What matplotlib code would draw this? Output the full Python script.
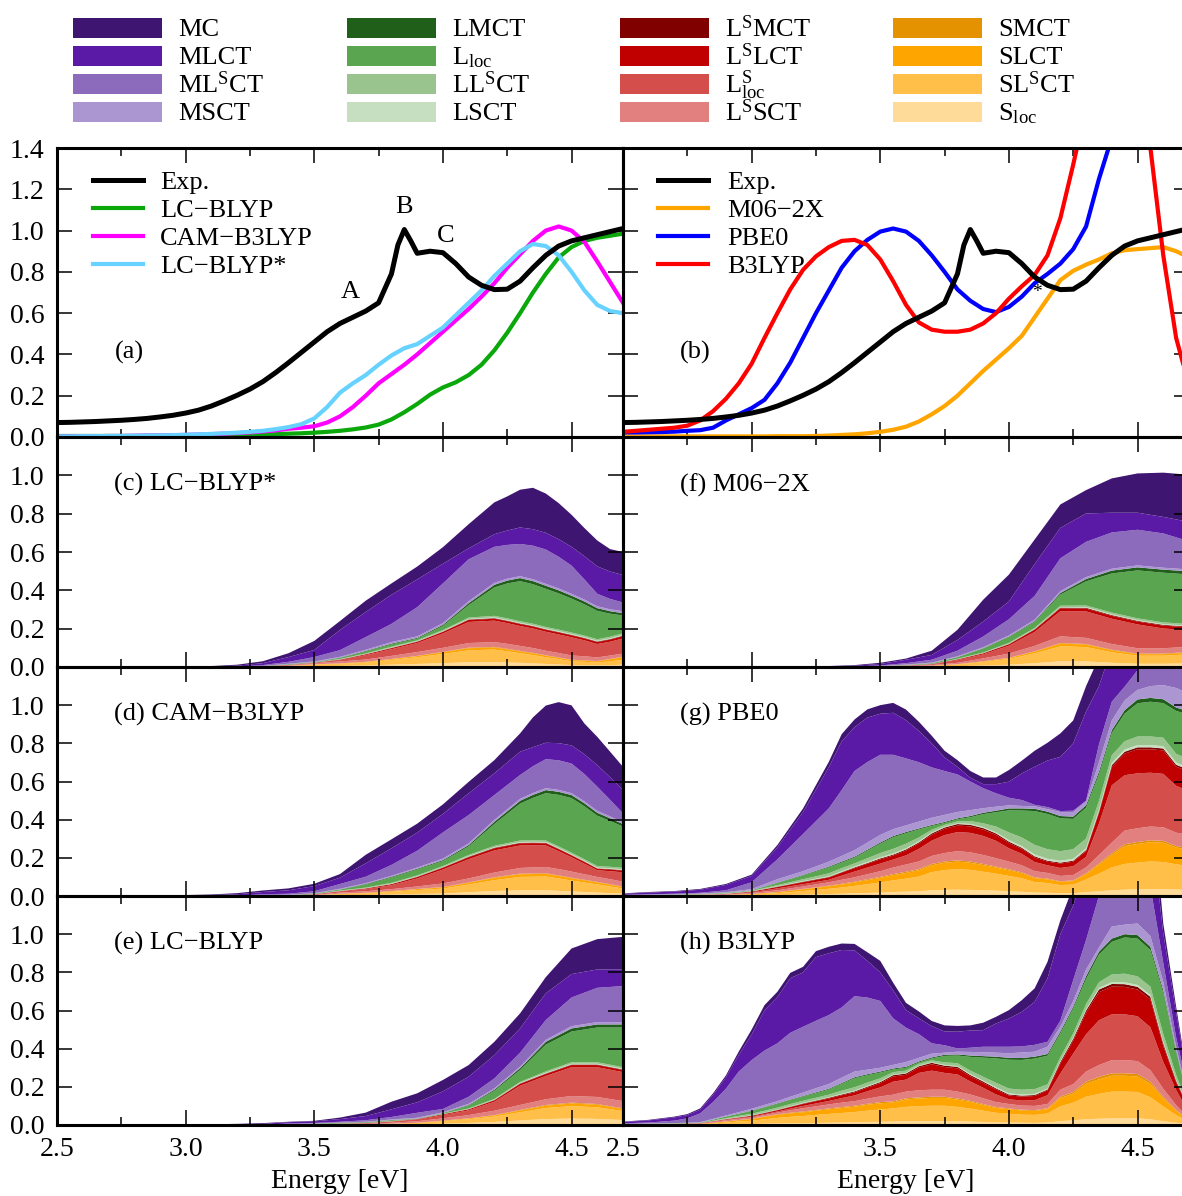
import numpy as np
import matplotlib
matplotlib.use("Agg")
import matplotlib.pyplot as plt
from matplotlib.patches import Rectangle

plt.rcParams['font.family'] = ['Liberation Serif', 'DejaVu Serif']
plt.rcParams['mathtext.fontset'] = 'custom'
plt.rcParams['mathtext.rm'] = 'Liberation Serif'
plt.rcParams['mathtext.it'] = 'Liberation Serif:italic'
plt.rcParams['mathtext.bf'] = 'Liberation Serif:bold'

# ---------------- data: top panels (lines) ----------------
LINE_E = [2.50, 2.55, 2.60, 2.65, 2.70, 2.75, 2.80, 2.85, 2.90, 2.95, 3.00, 3.05, 3.10, 3.15,
          3.20, 3.25, 3.30, 3.35, 3.40, 3.45, 3.50, 3.55, 3.60, 3.65, 3.70, 3.75, 3.80, 3.85,
          3.90, 3.95, 4.00, 4.05, 4.10, 4.15, 4.20, 4.25, 4.30, 4.35, 4.40, 4.45, 4.50, 4.55,
          4.60, 4.65, 4.70]

EXP_E = [2.50, 2.55, 2.60, 2.65, 2.70, 2.75, 2.80, 2.85, 2.90, 2.95, 3.00, 3.05, 3.10, 3.15,
         3.20, 3.25, 3.30, 3.35, 3.40, 3.45, 3.50, 3.55, 3.60, 3.65, 3.70, 3.75, 3.80, 3.825,
         3.85, 3.875, 3.90, 3.95, 4.00, 4.05, 4.10, 4.15, 4.20, 4.25, 4.30, 4.35, 4.40, 4.45,
         4.50, 4.55, 4.60, 4.65, 4.70]
EXP_V = [0.070, 0.071, 0.073, 0.075, 0.078, 0.081, 0.085, 0.090, 0.097, 0.105, 0.116, 0.130,
         0.150, 0.175, 0.202, 0.232, 0.268, 0.312, 0.360, 0.410, 0.460, 0.510, 0.550, 0.580,
         0.610, 0.650, 0.790, 0.930, 1.005, 0.950, 0.890, 0.900, 0.893, 0.840, 0.775, 0.735,
         0.714, 0.716, 0.755, 0.820, 0.880, 0.925, 0.950, 0.965, 0.980, 0.995, 1.010]

LCBLYP = [0.005, 0.005, 0.005, 0.005, 0.005, 0.005, 0.005, 0.006, 0.006, 0.007, 0.007, 0.008,
          0.008, 0.009, 0.010, 0.011, 0.012, 0.014, 0.016, 0.018, 0.021, 0.025, 0.030, 0.037,
          0.046, 0.060, 0.085, 0.120, 0.160, 0.205, 0.240, 0.265, 0.300, 0.350, 0.420, 0.505,
          0.600, 0.700, 0.790, 0.870, 0.920, 0.950, 0.965, 0.975, 0.985]
CAMB3LYP = [0.003, 0.003, 0.004, 0.004, 0.005, 0.005, 0.006, 0.007, 0.008, 0.009, 0.010, 0.012,
            0.014, 0.016, 0.019, 0.022, 0.027, 0.032, 0.040, 0.045, 0.052, 0.070, 0.100, 0.145,
            0.200, 0.260, 0.305, 0.350, 0.400, 0.455, 0.510, 0.565, 0.620, 0.680, 0.745, 0.820,
            0.885, 0.950, 1.000, 1.020, 1.000, 0.945, 0.850, 0.750, 0.650]
LCBLYP_STAR = [0.003, 0.003, 0.004, 0.004, 0.005, 0.005, 0.006, 0.007, 0.008, 0.009, 0.011,
               0.013, 0.015, 0.018, 0.021, 0.025, 0.030, 0.038, 0.048, 0.062, 0.090, 0.145,
               0.215, 0.260, 0.300, 0.350, 0.395, 0.430, 0.450, 0.490, 0.530, 0.590, 0.650,
               0.710, 0.780, 0.840, 0.900, 0.935, 0.925, 0.880, 0.800, 0.710, 0.640, 0.610, 0.600]
M062X = [0.003, 0.003, 0.003, 0.003, 0.003, 0.003, 0.003, 0.003, 0.003, 0.003, 0.003, 0.003,
         0.004, 0.004, 0.004, 0.005, 0.007, 0.010, 0.013, 0.018, 0.025, 0.035, 0.050, 0.075,
         0.110, 0.150, 0.200, 0.260, 0.320, 0.375, 0.430, 0.490, 0.580, 0.670, 0.760, 0.805,
         0.835, 0.860, 0.890, 0.905, 0.910, 0.915, 0.920, 0.900, 0.870]
PBE0 = [0.022, 0.022, 0.023, 0.024, 0.026, 0.030, 0.033, 0.045, 0.080, 0.110, 0.140, 0.180,
        0.260, 0.360, 0.480, 0.600, 0.710, 0.820, 0.900, 0.955, 0.995, 1.010, 0.995, 0.950,
        0.880, 0.800, 0.715, 0.660, 0.620, 0.605, 0.630, 0.680, 0.745, 0.790, 0.840, 0.910,
        1.020, 1.250, 1.450, 1.550, 1.600, 1.600, 1.600, 1.500, 1.450]
B3LYP = [0.025, 0.030, 0.035, 0.040, 0.045, 0.055, 0.080, 0.125, 0.185, 0.260, 0.355, 0.480,
         0.600, 0.715, 0.810, 0.875, 0.920, 0.950, 0.955, 0.930, 0.860, 0.755, 0.640, 0.555,
         0.520, 0.510, 0.510, 0.520, 0.550, 0.600, 0.670, 0.730, 0.785, 0.880, 1.060, 1.320,
         1.600, 1.850, 1.980, 2.000, 1.850, 1.400, 0.880, 0.480, 0.250]

# ---------------- data: decomposed spectra (stacks) ----------------
STACK_E = [2.5, 2.6, 2.7, 2.8, 2.9, 3.0, 3.1, 3.2, 3.3, 3.4, 3.5, 3.6, 3.7, 3.8, 3.9, 4.0,
           4.1, 4.2, 4.3, 4.4, 4.5, 4.6, 4.7]
C_E = [2.5, 2.6, 2.7, 2.8, 2.9, 3.0, 3.1, 3.2, 3.3, 3.4, 3.5, 3.6, 3.7, 3.8, 3.9, 4.0,
       4.1, 4.2, 4.25, 4.3, 4.35, 4.4, 4.45, 4.5, 4.55, 4.6, 4.65, 4.7]
D_E = [2.5, 2.6, 2.7, 2.8, 2.9, 3.0, 3.1, 3.2, 3.3, 3.4, 3.5, 3.6, 3.7, 3.8, 3.9, 4.0,
       4.1, 4.2, 4.3, 4.35, 4.4, 4.45, 4.5, 4.55, 4.6, 4.65, 4.7]
G_E = [2.5, 2.6, 2.7, 2.8, 2.9, 3.0, 3.1, 3.2, 3.3, 3.35, 3.4, 3.45, 3.5, 3.55, 3.6, 3.65,
       3.7, 3.75, 3.8, 3.85, 3.9, 3.95, 4.0, 4.05, 4.1, 4.15, 4.2, 4.25, 4.3, 4.35, 4.4, 4.45,
       4.5, 4.55, 4.6, 4.65, 4.7]
H_E = [2.5, 2.6, 2.7, 2.75, 2.8, 2.85, 2.9, 2.95, 3.0, 3.05, 3.1, 3.15, 3.2, 3.25, 3.3, 3.35,
       3.4, 3.45, 3.5, 3.55, 3.6, 3.65, 3.7, 3.75, 3.8, 3.85, 3.9, 3.95, 4.0, 4.05, 4.1, 4.15,
       4.2, 4.25, 4.3, 4.35, 4.4, 4.45, 4.5, 4.55, 4.6, 4.65, 4.7]

# legend order (top-left down each column)
CATEGORIES = ["MC", "MLCT", r"ML$^{\mathrm{S}}$CT", "MSCT",
              "LMCT", r"L$_{\mathrm{loc}}$", r"LL$^{\mathrm{S}}$CT", "LSCT",
              r"L$^{\mathrm{S}}$MCT", r"L$^{\mathrm{S}}$LCT", r"L$^{\mathrm{S}}_{\mathrm{loc}}$", r"L$^{\mathrm{S}}$SCT",
              "SMCT", "SLCT", r"SL$^{\mathrm{S}}$CT", r"S$_{\mathrm{loc}}$"]
CAT_COLORS = ["#3f1572", "#5a1aa6", "#8c6bbd", "#ab96d2",
              "#1f5f1a", "#5aa550", "#9ac48e", "#c6dfc0",
              "#800000", "#c00000", "#d44e4c", "#e28080",
              "#e49200", "#ffa500", "#ffbf48", "#ffdb99"]

# rows, bottom -> top: S_loc, SL^SCT, SLCT, SMCT, L^SSCT, L^S_loc, L^SLCT, L^SMCT,
#                      LSCT, LL^SCT, L_loc, LMCT, MSCT, ML^SCT, MLCT, MC
C_LCBLYP_STAR = [
    [0, 0, 0, 0, 0, 0, 0, 0, .001, .002, .004, .006, .008, .012, .016, .020, .025, .026, .024, .022, .019, .016, .013, .010, .009, .008, .010, .012],
    [0, 0, 0, 0, 0, 0, 0, 0, .001, .003, .008, .011, .016, .025, .035, .048, .062, .065, .058, .050, .043, .035, .028, .020, .018, .015, .020, .025],
    [0, 0, 0, 0, 0, 0, 0, 0, 0, .001, .002, .002, .003, .004, .006, .009, .011, .011, .010, .009, .009, .008, .007, .006, .006, .006, .010, .014],
    [0, 0, 0, 0, 0, 0, 0, 0, 0, 0, 0, 0, 0, .001, .001, .002, .003, .003, .003, .003, .003, .002, .002, .002, .002, .002, .002, .003],
    [0, 0, 0, 0, 0, 0, 0, 0, .001, .002, .006, .010, .012, .016, .020, .021, .024, .025, .026, .026, .025, .024, .023, .022, .021, .019, .018, .016],
    [0, 0, 0, 0, 0, 0, 0, 0, .001, .002, .002, .007, .023, .035, .047, .075, .110, .112, .108, .104, .102, .099, .097, .095, .083, .070, .072, .079],
    [0, 0, 0, 0, 0, 0, 0, 0, 0, .001, .001, .002, .004, .005, .006, .008, .010, .010, .010, .010, .010, .010, .010, .010, .010, .010, .011, .012],
    [0, 0, 0, 0, 0, 0, 0, 0, 0, 0, 0, .001, .001, .002, .002, .002, .003, .003, .003, .003, .003, .003, .003, .003, .003, .003, .003, .003],
    [0, 0, 0, 0, 0, 0, 0, 0, 0, 0, 0, .001, .001, .002, .002, .003, .003, .004, .004, .004, .004, .004, .004, .004, .004, .004, .004, .004],
    [0, 0, 0, 0, 0, 0, 0, 0, 0, .001, .001, .002, .003, .004, .004, .005, .007, .008, .008, .008, .008, .008, .008, .008, .008, .008, .008, .008],
    [0, 0, 0, 0, 0, 0, 0, 0, .001, .002, .001, .005, .010, .012, .009, .021, .065, .148, .182, .209, .206, .199, .189, .177, .163, .148, .120, .093],
    [0, 0, 0, 0, 0, 0, 0, 0, 0, .001, .001, .002, .003, .004, .004, .006, .010, .014, .015, .016, .016, .016, .016, .015, .015, .014, .013, .012],
    [0, 0, 0, 0, 0, 0, 0, 0, .001, .002, .003, .004, .006, .008, .008, .009, .010, .010, .010, .010, .010, .010, .010, .010, .010, .010, .010, .010],
    [0, 0, 0, 0, 0, 0, 0, .002, .004, .010, .023, .035, .066, .095, .152, .207, .219, .188, .176, .168, .175, .179, .165, .147, .105, .065, .054, .046],
    [.001, .001, .001, .001, .001, .002, .003, .005, .010, .025, .037, .105, .131, .152, .145, .103, .057, .066, .075, .086, .086, .087, .092, .098, .121, .143, .143, .143],
    [.001, .001, .001, .001, .001, .001, .002, .005, .010, .020, .047, .047, .059, .059, .067, .086, .126, .166, .178, .197, .216, .205, .188, .167, .147, .135, .117, .120],
]

D_CAMB3LYP = [
    [0, 0, 0, 0, 0, 0, 0, 0, 0, .001, .001, .004, .005, .008, .011, .013, .020, .026, .030, .030, .030, .027, .024, .021, .018, .015, .012],
    [0, 0, 0, 0, 0, 0, 0, 0, .001, .001, .002, .006, .009, .014, .020, .026, .040, .057, .070, .071, .072, .065, .057, .050, .043, .035, .027],
    [0, 0, 0, 0, 0, 0, 0, 0, 0, 0, .001, .002, .002, .003, .005, .006, .009, .012, .014, .014, .014, .013, .012, .011, .010, .009, .008],
    [0, 0, 0, 0, 0, 0, 0, 0, 0, 0, 0, 0, .001, .001, .001, .002, .002, .003, .003, .003, .003, .003, .003, .003, .003, .003, .002],
    [0, 0, 0, 0, 0, 0, 0, 0, .001, .001, .002, .006, .008, .010, .013, .019, .021, .025, .030, .032, .033, .033, .032, .029, .026, .026, .026],
    [0, 0, 0, 0, 0, 0, 0, 0, .001, .001, .002, .006, .011, .021, .042, .073, .101, .116, .118, .116, .113, .094, .075, .055, .035, .042, .049],
    [0, 0, 0, 0, 0, 0, 0, 0, 0, 0, .001, .002, .003, .005, .007, .009, .010, .011, .011, .011, .011, .010, .009, .009, .008, .008, .009],
    [0, 0, 0, 0, 0, 0, 0, 0, 0, 0, 0, 0, .001, .001, .002, .002, .003, .003, .003, .003, .003, .003, .003, .003, .002, .003, .003],
    [0, 0, 0, 0, 0, 0, 0, 0, 0, 0, 0, .001, .001, .002, .002, .002, .003, .003, .004, .004, .004, .004, .004, .004, .004, .004, .004],
    [0, 0, 0, 0, 0, 0, 0, 0, 0, .001, .001, .002, .003, .004, .005, .005, .006, .007, .008, .008, .008, .008, .008, .008, .008, .008, .008],
    [0, 0, 0, 0, 0, 0, 0, 0, .001, .001, .002, .005, .016, .028, .031, .026, .045, .114, .193, .222, .248, .270, .286, .277, .264, .240, .216],
    [0, 0, 0, 0, 0, 0, 0, 0, 0, 0, .001, .001, .003, .004, .004, .005, .007, .012, .015, .016, .016, .016, .016, .016, .015, .014, .013],
    [0, 0, 0, 0, 0, 0, 0, 0, .001, .001, .002, .003, .004, .005, .006, .008, .009, .010, .010, .010, .010, .010, .010, .010, .010, .010, .009],
    [0, 0, 0, 0, 0, 0, .001, .002, .004, .005, .010, .025, .034, .057, .088, .137, .148, .130, .125, .140, .152, .155, .155, .143, .127, .087, .047],
    [.001, .001, .001, .001, .002, .003, .004, .007, .012, .018, .027, .033, .070, .087, .095, .097, .114, .114, .122, .100, .086, .090, .095, .104, .113, .118, .122],
    [.001, .001, .001, .001, .001, .002, .003, .006, .008, .010, .012, .019, .045, .047, .047, .050, .060, .069, .096, .156, .195, .215, .210, .161, .148, .134, .122],
]

E_LCBLYP = [
    [0, 0, 0, 0, 0, 0, 0, 0, 0, 0, 0, 0, .001, .002, .004, .007, .011, .016, .024, .031, .034, .032, .026],
    [0, 0, 0, 0, 0, 0, 0, 0, 0, 0, 0, .001, .002, .004, .007, .013, .019, .028, .043, .058, .065, .061, .047],
    [0, 0, 0, 0, 0, 0, 0, 0, 0, 0, 0, 0, 0, .001, .001, .002, .004, .006, .009, .012, .014, .013, .011],
    [0, 0, 0, 0, 0, 0, 0, 0, 0, 0, 0, 0, 0, 0, 0, .001, .001, .002, .003, .004, .004, .004, .003],
    [0, 0, 0, 0, 0, 0, 0, 0, 0, .001, .002, .003, .003, .005, .008, .012, .017, .023, .026, .030, .035, .037, .038],
    [0, 0, 0, 0, 0, 0, 0, 0, 0, 0, .001, .002, .003, .005, .008, .017, .025, .047, .101, .122, .151, .156, .152],
    [0, 0, 0, 0, 0, 0, 0, 0, 0, 0, 0, .001, .001, .002, .002, .004, .005, .007, .009, .010, .011, .011, .011],
    [0, 0, 0, 0, 0, 0, 0, 0, 0, 0, 0, 0, 0, 0, .001, .001, .001, .002, .003, .003, .003, .003, .003],
    [0, 0, 0, 0, 0, 0, 0, 0, 0, 0, 0, 0, 0, .001, 0, .001, .001, .002, .003, .004, .004, .004, .004],
    [0, 0, 0, 0, 0, 0, 0, 0, 0, .001, .001, .001, .001, .001, .001, .001, .003, .004, .005, .007, .008, .008, .008],
    [0, 0, 0, 0, 0, 0, 0, 0, 0, .001, .002, .003, .003, .004, .001, .003, .015, .042, .062, .140, .161, .182, .208],
    [0, 0, 0, 0, 0, 0, 0, 0, 0, 0, .001, .001, .001, .001, .001, .001, .003, .006, .010, .015, .016, .016, .016],
    [0, 0, 0, 0, 0, 0, 0, 0, 0, .001, .001, .001, .002, .003, .004, .004, .006, .007, .008, .010, .012, .012, .012],
    [0, 0, 0, 0, 0, 0, 0, 0, .001, .004, .003, .004, .008, .013, .026, .017, .037, .052, .073, .104, .150, .180, .189],
    [.001, .001, .001, .001, .001, .002, .002, .003, .005, .007, .008, .014, .022, .040, .055, .092, .105, .122, .127, .140, .123, .096, .087],
    [.001, .001, .001, .001, .001, .001, .002, .003, .004, .002, .003, .008, .018, .040, .047, .060, .061, .070, .079, .085, .134, .159, .171],
]

F_M062X = [
    [0, 0, 0, 0, 0, 0, 0, 0, 0, 0, .001, .001, .002, .004, .008, .012, .020, .030, .029, .022, .017, .017, .019],
    [0, 0, 0, 0, 0, 0, 0, 0, 0, .001, .001, .002, .004, .009, .018, .030, .051, .078, .075, .055, .042, .042, .047],
    [0, 0, 0, 0, 0, 0, 0, 0, 0, 0, 0, .001, .001, .002, .003, .005, .009, .014, .013, .010, .008, .008, .009],
    [0, 0, 0, 0, 0, 0, 0, 0, 0, 0, 0, 0, 0, 0, .001, .001, .002, .003, .003, .003, .003, .003, .003],
    [0, 0, 0, 0, 0, 0, 0, 0, 0, 0, .001, .002, .003, .007, .015, .022, .028, .035, .032, .030, .028, .028, .027],
    [0, 0, 0, 0, 0, 0, 0, 0, 0, 0, .001, .001, .003, .014, .021, .041, .073, .131, .138, .132, .124, .103, .087],
    [0, 0, 0, 0, 0, 0, 0, 0, 0, 0, 0, .001, .002, .003, .005, .007, .011, .015, .015, .015, .015, .015, .015],
    [0, 0, 0, 0, 0, 0, 0, 0, 0, 0, 0, 0, 0, .001, .001, .002, .003, .004, .004, .004, .004, .004, .004],
    [0, 0, 0, 0, 0, 0, 0, 0, 0, 0, 0, 0, 0, .001, .001, .002, .002, .003, .004, .004, .004, .004, .004],
    [0, 0, 0, 0, 0, 0, 0, 0, 0, 0, 0, .001, .001, .002, .003, .004, .005, .007, .008, .009, .009, .009, .009],
    [0, 0, 0, 0, 0, 0, 0, 0, 0, 0, .001, .002, .003, .008, .020, .030, .031, .058, .126, .204, .250, .259, .259],
    [0, 0, 0, 0, 0, 0, 0, 0, 0, 0, 0, 0, .001, .001, .002, .003, .004, .008, .012, .015, .016, .016, .016],
    [0, 0, 0, 0, 0, 0, 0, 0, 0, 0, .001, .002, .003, .004, .005, .006, .008, .010, .010, .010, .010, .010, .010],
    [0, 0, 0, 0, 0, 0, 0, 0, .001, .002, .002, .007, .015, .029, .056, .084, .124, .171, .184, .189, .186, .179, .147],
    [.001, .001, .001, .001, .001, .001, .001, .002, .002, .004, .008, .018, .025, .056, .078, .093, .166, .159, .148, .103, .089, .086, .101],
    [.001, .001, .001, .001, .001, .001, .001, .001, .002, .003, .006, .006, .022, .053, .114, .140, .128, .122, .122, .179, .205, .231, .246],
]

G_PBE0 = [
    [0, .001, .001, .001, .001, .002, .004, .007, .010, .012, .014, .016, .018, .021, .023, .025, .030, .032, .033, .032, .030, .028, .025, .022, .018, .017, .014, .015, .020, .025, .030, .033, .035, .036, .036, .034, .032],
    [.001, .001, .001, .002, .003, .006, .011, .019, .028, .033, .039, .046, .053, .061, .068, .077, .095, .104, .108, .105, .097, .089, .080, .071, .055, .051, .043, .045, .067, .092, .120, .135, .140, .145, .142, .132, .125],
    [0, 0, .001, .001, .002, .003, .005, .009, .013, .015, .018, .021, .024, .027, .030, .033, .036, .038, .039, .037, .035, .032, .030, .026, .021, .019, .017, .018, .027, .047, .065, .093, .098, .101, .101, .088, .085],
    [0, 0, 0, 0, 0, 0, .001, .002, .003, .004, .004, .005, .005, .006, .006, .006, .007, .007, .007, .007, .006, .005, .005, .005, .004, .004, .003, .004, .005, .007, .009, .010, .010, .010, .010, .008, .008],
    [.001, .001, .001, .001, .002, .005, .009, .013, .018, .021, .023, .026, .030, .034, .038, .040, .042, .044, .048, .048, .047, .044, .040, .037, .032, .030, .028, .028, .031, .043, .056, .072, .072, .072, .071, .070, .070],
    [.001, .001, .001, .001, .002, .004, .010, .012, .013, .022, .030, .035, .040, .042, .048, .066, .080, .094, .100, .102, .100, .091, .070, .060, .048, .040, .042, .046, .055, .165, .300, .290, .288, .282, .280, .245, .230],
    [0, 0, 0, .001, .001, .003, .007, .010, .012, .015, .018, .020, .022, .021, .025, .028, .031, .033, .034, .034, .033, .031, .028, .026, .024, .019, .023, .024, .030, .055, .096, .113, .126, .123, .123, .101, .100],
    [0, 0, 0, 0, 0, .001, .002, .003, .003, .003, .004, .004, .005, .005, .006, .006, .007, .007, .008, .008, .008, .008, .007, .006, .006, .005, .005, .005, .006, .008, .010, .010, .010, .010, .010, .010, .010],
    [0, 0, 0, .001, .001, .001, .002, .003, .004, .005, .005, .006, .006, .006, .006, .006, .005, .004, .004, .005, .005, .006, .008, .009, .010, .010, .010, .010, .010, .011, .012, .012, .012, .012, .012, .012, .012],
    [0, .001, .001, .001, .002, .002, .006, .010, .015, .016, .016, .019, .022, .024, .024, .020, .014, .010, .010, .015, .020, .030, .040, .045, .050, .050, .050, .050, .050, .045, .040, .043, .045, .045, .045, .045, .045],
    [.001, .001, .002, .002, .003, .002, .011, .019, .031, .029, .030, .040, .049, .061, .055, .042, .020, .010, .011, .020, .048, .075, .116, .141, .177, .185, .172, .159, .162, .139, .116, .145, .174, .182, .181, .225, .232],
    [0, 0, 0, 0, 0, .001, .002, .003, .004, .005, .005, .005, .006, .006, .006, .005, .005, .005, .005, .006, .007, .008, .010, .011, .012, .012, .012, .012, .013, .014, .015, .018, .020, .020, .020, .018, .017],
    [0, .001, .001, .002, .003, .006, .018, .020, .026, .030, .034, .037, .040, .036, .035, .036, .038, .037, .033, .031, .024, .021, .016, .013, .013, .013, .021, .024, .019, .049, .051, .051, .050, .062, .074, .102, .094],
    [.002, .002, .003, .004, .010, .036, .104, .195, .279, .345, .415, .422, .420, .390, .351, .311, .264, .230, .197, .150, .105, .070, .040, .031, .008, .011, .005, .007, .005, .094, .098, .072, .103, .150, .195, .190, .190],
    [.006, .009, .011, .016, .028, .033, .063, .115, .216, .255, .230, .233, .215, .220, .200, .164, .126, .071, .040, .020, .021, .048, .084, .139, .199, .244, .284, .353, .467, .306, .282, .253, .217, .180, .150, .140, .130],
    [.002, .003, .003, .004, .005, .007, .012, .019, .028, .038, .040, .043, .045, .052, .056, .048, .040, .035, .035, .035, .035, .035, .061, .067, .084, .093, .123, .120, .133, .150, .150, .200, .150, .170, .100, .080, .070],
]

H_B3LYP = [
    [.001, .001, .001, .001, .001, .002, .003, .004, .005, .007, .008, .009, .010, .011, .012, .013, .014, .016, .017, .018, .020, .021, .021, .021, .020, .018, .016, .014, .013, .012, .011, .013, .020, .025, .030, .033, .035, .035, .035, .030, .020, .012, .004],
    [.001, .001, .002, .003, .003, .006, .010, .014, .017, .023, .029, .034, .037, .042, .046, .050, .054, .059, .064, .069, .075, .078, .080, .080, .075, .068, .059, .050, .046, .042, .042, .047, .078, .092, .118, .130, .140, .140, .138, .115, .077, .040, .013],
    [0, .001, .001, .001, .002, .004, .005, .007, .009, .013, .016, .018, .020, .022, .024, .026, .028, .031, .033, .031, .039, .040, .041, .041, .038, .035, .030, .026, .024, .022, .021, .023, .043, .048, .068, .076, .083, .083, .081, .070, .043, .023, .007],
    [0, 0, 0, 0, 0, 0, .001, .001, .002, .002, .003, .003, .004, .004, .005, .005, .005, .005, .006, .006, .006, .006, .006, .006, .006, .006, .005, .004, .004, .004, .004, .004, .007, .009, .011, .013, .013, .013, .013, .012, .008, .004, .001],
    [.001, .001, .001, .001, .002, .004, .006, .006, .007, .007, .009, .013, .017, .019, .021, .023, .024, .027, .030, .035, .035, .037, .037, .037, .036, .033, .030, .026, .023, .022, .022, .023, .037, .040, .053, .062, .069, .069, .068, .060, .042, .025, .008],
    [.001, .001, .001, .001, .001, .002, .003, .004, .004, .005, .006, .009, .012, .015, .018, .024, .030, .039, .047, .068, .063, .091, .100, .088, .090, .068, .055, .040, .025, .026, .030, .046, .085, .160, .195, .235, .240, .240, .235, .225, .140, .080, .028],
    [0, 0, 0, .001, .001, .002, .002, .003, .004, .005, .006, .008, .010, .012, .013, .015, .016, .019, .022, .027, .025, .028, .033, .031, .032, .027, .026, .026, .020, .021, .022, .025, .050, .068, .113, .147, .145, .144, .140, .146, .085, .040, .018],
    [0, 0, 0, 0, 0, 0, .001, .001, .001, .002, .002, .002, .003, .003, .004, .004, .005, .005, .006, .007, .007, .007, .008, .007, .008, .007, .007, .006, .005, .005, .005, .005, .010, .010, .012, .014, .014, .014, .014, .014, .012, .008, .004],
    [0, 0, 0, 0, 0, .001, .001, .002, .002, .002, .002, .003, .003, .003, .003, .004, .004, .004, .004, .003, .003, .003, .003, .004, .004, .005, .005, .006, .006, .006, .006, .005, .005, .006, .006, .008, .010, .010, .010, .010, .010, .006, .002],
    [0, .001, .001, .001, .001, .002, .004, .006, .008, .009, .010, .011, .011, .012, .013, .016, .018, .017, .016, .013, .012, .010, .010, .013, .015, .018, .020, .023, .025, .025, .025, .022, .020, .022, .028, .030, .040, .045, .045, .043, .040, .025, .006],
    [.001, .001, .002, .002, .002, .005, .008, .011, .014, .017, .019, .020, .022, .024, .027, .036, .047, .039, .030, .014, .015, .007, .010, .034, .040, .072, .100, .128, .151, .156, .160, .150, .125, .130, .131, .145, .171, .190, .198, .192, .215, .117, .019],
    [0, 0, 0, 0, 0, 0, .001, .001, .002, .002, .003, .003, .003, .004, .004, .004, .005, .005, .005, .005, .005, .005, .005, .006, .006, .007, .008, .009, .010, .010, .010, .009, .010, .010, .015, .015, .017, .017, .018, .017, .015, .010, .003],
    [0, .001, .001, .001, .002, .004, .005, .007, .010, .011, .012, .015, .018, .022, .025, .028, .030, .024, .020, .019, .025, .019, .020, .011, .014, .019, .020, .021, .024, .029, .026, .038, .026, .030, .035, .022, .063, .050, .061, .056, .043, .020, .010],
    [.004, .005, .013, .023, .046, .088, .140, .213, .255, .285, .303, .335, .345, .353, .361, .368, .395, .378, .350, .244, .180, .124, .054, .039, .017, .022, .029, .031, .034, .032, .036, .026, .031, .110, .155, .270, .210, .200, .194, .260, .100, .050, .035],
    [.007, .011, .017, .017, .019, .038, .060, .087, .134, .211, .242, .286, .285, .334, .324, .301, .240, .192, .150, .147, .092, .083, .090, .072, .088, .090, .087, .122, .148, .181, .225, .332, .453, .390, .380, .350, .350, .400, .400, .350, .154, .130, .027],
    [.002, .003, .004, .005, .007, .008, .010, .018, .026, .027, .028, .028, .029, .031, .034, .034, .034, .045, .060, .040, .038, .036, .027, .032, .030, .027, .039, .035, .044, .061, .071, .087, .073, .100, .100, .150, .300, .300, .250, .200, .052, .030, .015],
]

X_TICKS = [2.5, 3.0, 3.5, 4.0, 4.5]
X_MINOR = [2.75, 3.25, 3.75, 4.25]

# ---------------- figure ----------------
W, H = 1182, 1196
fig = plt.figure(figsize=(W / 100, H / 100), dpi=100)


def px_axes(x0, y0, x1, y1):
    ax = fig.add_axes([x0 / W, 1 - y1 / H, (x1 - x0) / W, (y1 - y0) / H])
    ax.set_facecolor('none')
    return ax


COLS = [(57, 623), (623, 1189)]
ROWS = [(148, 437), (437, 667), (667, 896), (896, 1125)]

TICKFS = 20
TEXTFS = 19


def style(ax, top_panel, left_col, bottom_row):
    ax.set_xlim(2.5, 4.7)
    for s in ax.spines.values():
        s.set_linewidth(2.2)
    ax.set_xticks(X_TICKS)
    ax.set_xticks(X_MINOR, minor=True)
    if top_panel:
        ax.set_ylim(0, 1.4)
        yt = [0.0, 0.2, 0.4, 0.6, 0.8, 1.0, 1.2, 1.4]
        yl = ["%.1f" % v for v in yt]
    else:
        ax.set_ylim(0, 1.2)
        yt = [0.0, 0.2, 0.4, 0.6, 0.8, 1.0, 1.2]
        yl = ["%.1f" % v for v in yt[:-1]] + [""]
    ax.set_yticks(yt)
    if left_col:
        ax.set_yticklabels(yl)
    else:
        ax.set_yticklabels([])
    if bottom_row:
        ax.set_xticklabels(["%.1f" % v for v in X_TICKS])
    else:
        ax.set_xticklabels([])
    ax.tick_params(which='both', direction='in', top=True, right=True,
                   labelsize=TICKFS, pad=9)
    ax.tick_params(which='major', length=11, width=1.1)
    ax.tick_params(which='minor', length=5.5, width=1.1)


LEG_KW = dict(loc='upper left', frameon=False, fontsize=TEXTFS, handlelength=1.9,
              labelspacing=0.17, borderpad=0, borderaxespad=0)

# --- (a)
ax_a = px_axes(COLS[0][0], ROWS[0][0], COLS[0][1], ROWS[0][1])
style(ax_a, True, True, False)
l_exp, = ax_a.plot(EXP_E, EXP_V, color='black', lw=3.6, zorder=5, label='Exp.')
l1, = ax_a.plot(LINE_E, LCBLYP, color='#0aa80a', lw=3.0, label='LC\u2212BLYP')
l2, = ax_a.plot(LINE_E, CAMB3LYP, color='#ff00ff', lw=3.0, label='CAM\u2212B3LYP')
l3, = ax_a.plot(LINE_E, LCBLYP_STAR, color='#66d2ff', lw=3.0, label='LC\u2212BLYP*')
ax_a.legend(handles=[l_exp, l1, l2, l3], bbox_to_anchor=(0.0636, 0.921),
            handletextpad=0.65, **LEG_KW)
ax_a.text(2.725, 0.41, "(a)", fontsize=TEXTFS, va='center')
ax_a.text(3.64, 0.70, "A", fontsize=TEXTFS, ha='center', va='center')
ax_a.text(3.85, 1.115, "B", fontsize=TEXTFS, ha='center', va='center')
ax_a.text(4.01, 0.975, "C", fontsize=TEXTFS, ha='center', va='center')

# --- (b)
ax_b = px_axes(COLS[1][0], ROWS[0][0], COLS[1][1], ROWS[0][1])
style(ax_b, True, False, False)
b_exp, = ax_b.plot(EXP_E, EXP_V, color='black', lw=3.6, zorder=5, label='Exp.')
b1, = ax_b.plot(LINE_E, M062X, color='#ffa500', lw=3.0, label='M06\u22122X')
b2, = ax_b.plot(LINE_E, PBE0, color='#0000ff', lw=3.0, label='PBE0')
b3, = ax_b.plot(LINE_E, B3LYP, color='#ff0000', lw=3.0, label='B3LYP')
ax_b.legend(handles=[b_exp, b1, b2, b3], bbox_to_anchor=(0.0618, 0.921),
            handletextpad=0.72, **LEG_KW)
ax_b.text(2.72, 0.41, "(b)", fontsize=TEXTFS, va='center')
ax_b.text(4.11, 0.70, "*", fontsize=14, ha='center', va='center')

# --- stacks
STACK_ORDER_COLORS = CAT_COLORS[::-1]
panels = [
    (C_E, C_LCBLYP_STAR, 0, 1, "(c) LC\u2212BLYP*"),
    (D_E, D_CAMB3LYP, 0, 2, "(d) CAM\u2212B3LYP"),
    (STACK_E, E_LCBLYP, 0, 3, "(e) LC\u2212BLYP"),
    (STACK_E, F_M062X, 1, 1, "(f) M06\u22122X"),
    (G_E, G_PBE0, 1, 2, "(g) PBE0"),
    (H_E, H_B3LYP, 1, 3, "(h) B3LYP"),
]
for grid, table, col, row, label in panels:
    for r in table:
        assert len(r) == len(grid), (label, len(r), len(grid))
    ax = px_axes(COLS[col][0], ROWS[row][0], COLS[col][1], ROWS[row][1])
    style(ax, False, col == 0, row == 3)
    ax.stackplot(grid, *table, colors=STACK_ORDER_COLORS, linewidth=0)
    ax.text(2.72, 0.95, label, fontsize=TEXTFS, va='center')

# --- x labels
fig.text(340 / W, 1 - 1181 / H, "Energy [eV]", fontsize=TICKFS, ha='center', va='center')
fig.text(906 / W, 1 - 1181 / H, "Energy [eV]", fontsize=TICKFS, ha='center', va='center')

# --- category legend on top (4 columns x 4 rows)
PATCH_X = [73, 347, 620, 893]
ROW_Y = [28, 56, 84, 112]
for i, (name, colr) in enumerate(zip(CATEGORIES, CAT_COLORS)):
    c, r = divmod(i, 4)
    x0 = PATCH_X[c]
    yc = ROW_Y[r]
    fig.add_artist(Rectangle((x0 / W, 1 - (yc + 9.5) / H), 89 / W, 19 / H,
                             transform=fig.transFigure, facecolor=colr,
                             edgecolor='none'))
    fig.text((x0 + 105) / W, 1 - (yc + 8.5) / H, name, fontsize=TEXTFS,
             ha='left', va='baseline')

fig.savefig("out.png", dpi=100)
